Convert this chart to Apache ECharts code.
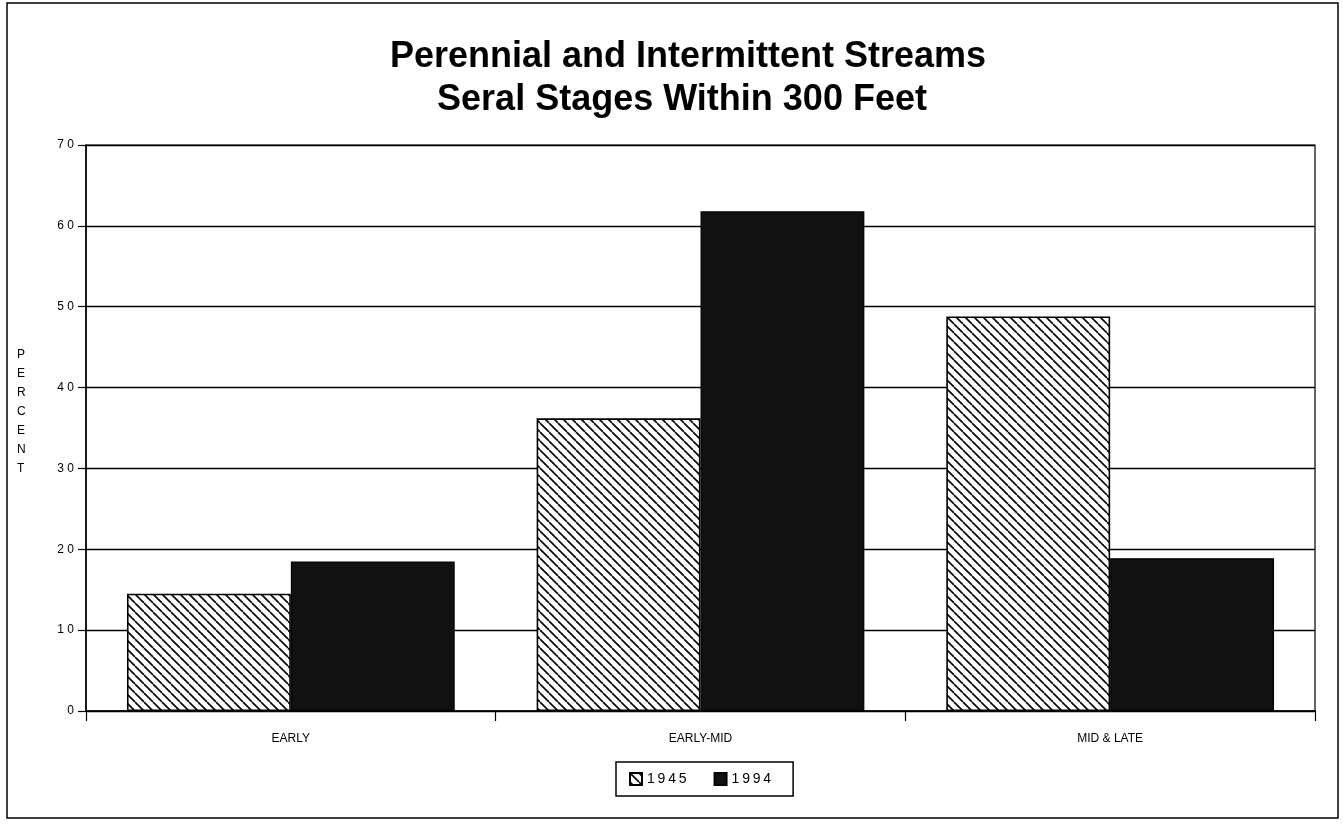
<!DOCTYPE html>
<html>
<head>
<meta charset="utf-8">
<script src="https://cdn.jsdelivr.net/npm/echarts@6/dist/echarts.min.js"></script>
<style>
html,body{margin:0;padding:0;background:#fff;}
#chart{width:1343px;height:826px;}
</style>
</head>
<body>
<div id="chart"></div>
<script>
const titleLines = ['Perennial and Intermittent Streams', 'Seral Stages Within 300 Feet'];
const categories = ['EARLY', 'EARLY-MID', 'MID & LATE'];
const seriesNames = ['1945', '1994'];
const values1945 = [14.5, 36.2, 48.8];
const values1994 = [18.5, 61.8, 18.9];
const yTicks = [0, 10, 20, 30, 40, 50, 60, 70];
const yAxisName = 'PERCENT';

function hatch() {
  const s = 9;
  const c = document.createElement('canvas');
  c.width = s; c.height = s;
  const g = c.getContext('2d');
  g.fillStyle = '#fff';
  g.fillRect(0, 0, s, s);
  g.strokeStyle = '#000';
  g.lineWidth = 1.6;
  for (const o of [-s, 0, s]) {
    g.beginPath();
    g.moveTo(o, 0);
    g.lineTo(o + s, s);
    g.stroke();
  }
  return c;
}
const hatchPattern = { image: hatch(), repeat: 'repeat' };

const FONT = 'Liberation Sans, Arial, sans-serif';
const spaced = s => String(s).split('').join('\u2009');
const chart = echarts.init(document.getElementById('chart'));
chart.setOption({
  backgroundColor: '#fff',
  animation: false,
  graphic: [
    {
      type: 'rect',
      shape: { x: 7, y: 3, width: 1331, height: 815 },
      style: { fill: 'none', stroke: '#000', lineWidth: 1.5 },
      silent: true
    },
    {
      type: 'text',
      x: 688,
      y: 57,
      style: {
        text: titleLines[0],
        fontFamily: FONT, fontWeight: 'bold', fontSize: 36,
        fill: '#000', align: 'center', verticalAlign: 'middle'
      }
    },
    {
      type: 'text',
      x: 682,
      y: 100,
      style: {
        text: titleLines[1],
        fontFamily: FONT, fontWeight: 'bold', fontSize: 36,
        fill: '#000', align: 'center', verticalAlign: 'middle'
      }
    },
    {
      type: 'text',
      left: 17,
      top: 345,
      style: {
        text: yAxisName.split('').join('\n'),
        fontFamily: FONT,
        fontSize: 12,
        lineHeight: 19,
        fill: '#000',
        align: 'center'
      }
    }
  ],
  legend: {
    data: seriesNames,
    top: 762,
    left: 616,
    icon: 'rect',
    itemWidth: 12,
    itemHeight: 12,
    itemGap: 27,
    padding: [10, 22, 10, 13],
    borderColor: '#000',
    borderWidth: 1.5,
    formatter: name => spaced(name),
    textStyle: { fontFamily: FONT, fontSize: 14, color: '#000' }
  },
  grid: {
    left: 86,
    right: 28,
    top: 145,
    bottom: 115,
    show: true,
    borderColor: '#000',
    borderWidth: 1.2,
    containLabel: false
  },
  xAxis: {
    type: 'category',
    data: categories,
    axisLine: { lineStyle: { color: '#000', width: 1.5 } },
    axisTick: { show: true, length: 10, lineStyle: { color: '#000', width: 1.2 } },
    axisLabel: {
      margin: 22,
      fontFamily: FONT,
      fontSize: 12,
      color: '#000'
    }
  },
  yAxis: {
    type: 'value',
    min: 0,
    max: 70,
    interval: 10,
    axisLine: { show: true, lineStyle: { color: '#000', width: 1.5 } },
    axisTick: { show: true, length: 8, lineStyle: { color: '#000', width: 1.2 } },
    axisLabel: {
      margin: 12,
      fontFamily: FONT,
      fontSize: 12,
      color: '#000',
      formatter: v => yTicks.includes(v) ? String(v).split('').join(' ') : ''
    },
    splitLine: { show: true, lineStyle: { color: '#000', width: 1.4 } }
  },
  series: [
    {
      name: seriesNames[0],
      type: 'bar',
      data: values1945,
      barGap: '0%',
      barCategoryGap: '20%',
      itemStyle: { color: hatchPattern, borderColor: '#000', borderWidth: 1.6 }
    },
    {
      name: seriesNames[1],
      type: 'bar',
      data: values1994,
      itemStyle: { color: '#111', borderColor: '#000', borderWidth: 1.2 }
    }
  ]
});
</script>
</body>
</html>
